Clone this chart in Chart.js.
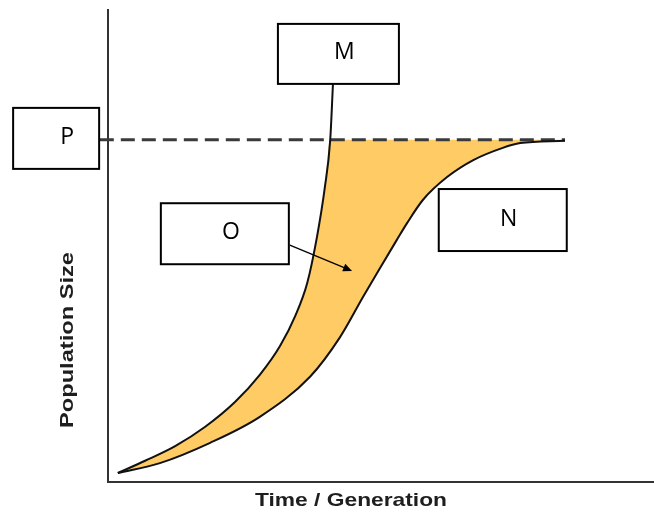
<!DOCTYPE html>
<html>
<head>
<meta charset="utf-8">
<script src="https://cdn.jsdelivr.net/npm/chart.js@4.4.1/dist/chart.umd.min.js"></script>
<style>
  html, body { margin: 0; padding: 0; background: #fff; }
  #wrap { width: 654px; height: 515px; position: relative; }
</style>
</head>
<body>
<div id="wrap"><canvas id="growth"></canvas></div>
<script>
/* global Chart */

// exponential (J) growth curve
const timeJ = [1.8, 6.8, 12.3, 17.8, 23.3, 27.8, 31.5, 34.3, 36.5, 38.3, 39.7, 40.7, 41.2]
const sizeJ = [1.9, 4.5, 7.6, 11.7, 17.0, 22.7, 28.8, 35.2, 42.2, 52.1, 62.3, 72.5, 84.3]

// logistic (S) growth curve
const timeS = [1.8, 9.5, 18.7, 27.8, 37.0, 42.5, 46.7, 49.8, 52.9, 54.8, 57.7, 62.1, 66.9, 72.3, 75.5, 83.7]
const sizeS = [1.9, 4.0, 8.3, 13.8, 22.3, 30.7, 39.2, 45.3, 51.3, 54.9, 59.8, 64.6, 68.2, 70.8, 71.8, 72.3]

// carrying capacity (dashed line)
const capacity = 72.5
const capacityTime = [-1.5, 83.7]

const boxLabels = ['P', 'M', 'O', 'N']
const axisTitles = ['Time / Generation', 'Population Size']

// where the label boxes sit (data units for the centre, pixels for the size)
const boxLayout = {
  P: { x: -9.5, y: 72.8, w: 86, h: 61, dx: 11 },
  M: { x: 42.2, y: 90.7, w: 121, h: 60, dx: 6 },
  O: { x: 21.4, y: 52.6, w: 128, h: 61, dx: 6 },
  N: { x: 72.3, y: 55.5, w: 128, h: 62, dx: 6 }
}
const arrowFrom = { x: 33.3, y: 50.2 }
const arrowTo = { x: 44.7, y: 44.7 }

const ORANGE = '#FECB65'

const jPoints = timeJ.map((t, i) => ({ x: t, y: sizeJ[i] }))
const sPoints = timeS.map((t, i) => ({ x: t, y: sizeS[i] }))
const kPoints = capacityTime.map(t => ({ x: t, y: capacity }))
// upper edge of the shaded gap: J curve up to K, then along K
const gapTop = jPoints.filter(p => p.y <= capacity)
  .concat([{ x: timeS[timeS.length - 1], y: capacity }])

function drawStretched (ctx, text, cx, cy, width, angle) {
  ctx.save()
  ctx.translate(cx, cy)
  ctx.rotate(angle)
  ctx.font = 'bold 19px "Liberation Sans", Arial, sans-serif'
  const natural = ctx.measureText(text).width
  ctx.scale(width / natural, 1)
  ctx.textAlign = 'center'
  ctx.textBaseline = 'middle'
  ctx.fillStyle = '#1e1e1e'
  ctx.fillText(text, 0, 0)
  ctx.restore()
}

const labelPlugin = {
  id: 'labelBoxes',
  afterDatasetsDraw (chart) {
    const { ctx, chartArea, scales: { x, y } } = chart
    ctx.save()

    // arrow from box O into the gap
    const x1 = x.getPixelForValue(arrowFrom.x)
    const y1 = y.getPixelForValue(arrowFrom.y)
    const x2 = x.getPixelForValue(arrowTo.x)
    const y2 = y.getPixelForValue(arrowTo.y)
    const ang = Math.atan2(y2 - y1, x2 - x1)
    ctx.strokeStyle = '#000'
    ctx.lineWidth = 1.3
    ctx.beginPath()
    ctx.moveTo(x1, y1)
    ctx.lineTo(x2 - 6 * Math.cos(ang), y2 - 6 * Math.sin(ang))
    ctx.stroke()
    ctx.fillStyle = '#000'
    ctx.beginPath()
    ctx.moveTo(x2, y2)
    ctx.lineTo(x2 - 9 * Math.cos(ang) + 4 * Math.sin(ang), y2 - 9 * Math.sin(ang) - 4 * Math.cos(ang))
    ctx.lineTo(x2 - 9 * Math.cos(ang) - 4 * Math.sin(ang), y2 - 9 * Math.sin(ang) + 4 * Math.cos(ang))
    ctx.closePath()
    ctx.fill()

    boxLabels.forEach(name => {
      const b = boxLayout[name]
      const cx = x.getPixelForValue(b.x)
      const cy = y.getPixelForValue(b.y)
      ctx.fillStyle = '#fff'
      ctx.fillRect(cx - b.w / 2, cy - b.h / 2, b.w, b.h)
      ctx.strokeStyle = '#000'
      ctx.lineWidth = 2
      ctx.strokeRect(cx - b.w / 2, cy - b.h / 2, b.w, b.h)
      ctx.fillStyle = '#000'
      ctx.font = '23px "Open Sans", "Liberation Sans", sans-serif'
      ctx.textAlign = 'center'
      ctx.textBaseline = 'middle'
      ctx.fillText(name, cx + b.dx, cy - 1)
    })
    ctx.restore()

    drawStretched(ctx, axisTitles[0], chartArea.left + 243, chartArea.bottom + 19, 192, 0)
    drawStretched(ctx, axisTitles[1], chartArea.left - 40, chartArea.bottom - 142, 176, -Math.PI / 2)
  }
}

const curveStyle = {
  borderColor: '#111',
  borderWidth: 2,
  pointRadius: 0,
  fill: false,
  cubicInterpolationMode: 'monotone'
}

new Chart(document.getElementById('growth').getContext('2d'), {
  type: 'line',
  data: {
    datasets: [
      { label: 'Logistic', data: sPoints, ...curveStyle },
      { label: 'Exponential', data: jPoints, ...curveStyle },
      {
        label: 'Carrying capacity',
        data: kPoints,
        borderColor: '#3a3a3a',
        borderWidth: 3,
        borderDash: [14, 7],
        pointRadius: 0,
        fill: false,
        clip: false
      },
      {
        label: 'Gap',
        data: gapTop,
        borderWidth: 0,
        borderColor: 'rgba(0,0,0,0)',
        backgroundColor: ORANGE,
        pointRadius: 0,
        cubicInterpolationMode: 'monotone',
        fill: 0
      }
    ]
  },
  options: {
    responsive: true,
    maintainAspectRatio: false,
    animation: false,
    events: [],
    layout: { padding: { left: 108, top: 10, right: 0, bottom: 33 } },
    plugins: { legend: { display: false }, tooltip: { enabled: false } },
    scales: {
      x: {
        type: 'linear',
        min: 0,
        max: 100,
        ticks: { display: false },
        grid: { display: false, drawTicks: false },
        border: { color: '#333', width: 2 }
      },
      y: {
        min: 0,
        max: 100,
        ticks: { display: false },
        grid: { display: false, drawTicks: false },
        border: { color: '#333', width: 2 }
      }
    }
  },
  plugins: [labelPlugin]
})
</script>
</body>
</html>
